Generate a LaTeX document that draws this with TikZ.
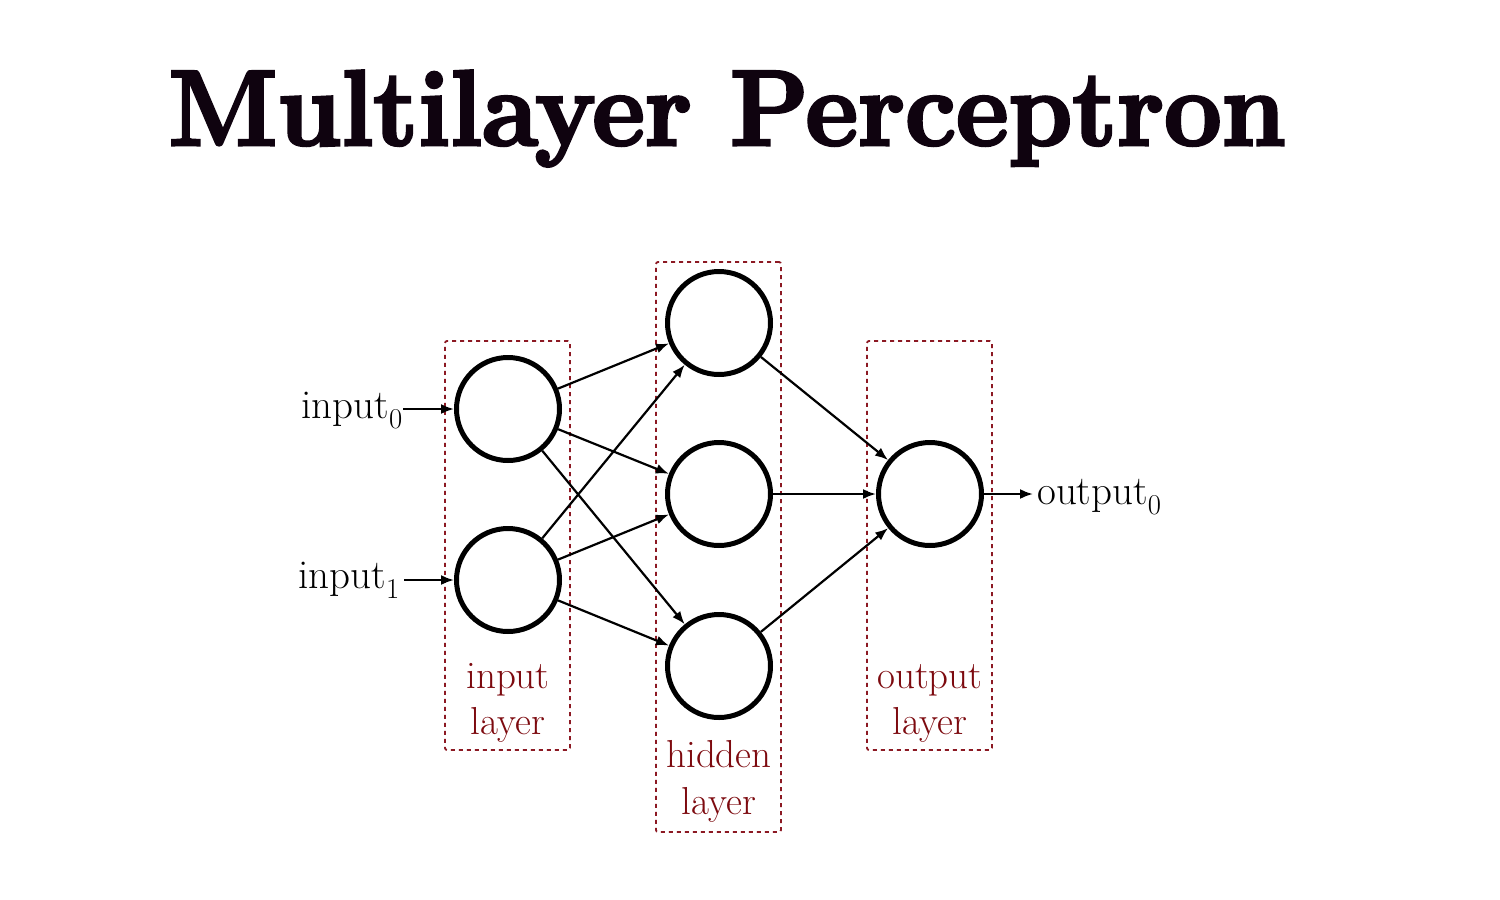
\documentclass[tikz,border=0pt]{standalone}
\usepackage{fontspec}
\usepackage{graphicx}
\newfontfamily\titlefont[FakeBold=3]{Latin Modern Roman}
\usetikzlibrary{arrows.meta,calc}
\definecolor{boxred}{RGB}{140,25,35}
\definecolor{labred}{RGB}{125,10,15}
\definecolor{titleblk}{RGB}{15,3,15}
\begin{document}
\begin{tikzpicture}[x=1pt,y=-1pt,
  neuron/.style={circle,draw,line width=5pt,minimum size=103pt,inner sep=0pt},
  layerbox/.style={draw=boxred,dash pattern=on 4pt off 4pt,line width=1.8pt,rounded corners=2pt,inner sep=0pt},
  conn/.style={-{Latex[length=13pt,width=10pt]},line width=2.2pt},
  lab/.style={text=labred,font=\fontsize{39}{42}\selectfont,inner sep=0pt,anchor=base},
  iotext/.style={font=\fontsize{41}{44}\selectfont,inner sep=0pt}]
\useasboundingbox (0,0) rectangle (1500,900);
\fill[white] (0,0) rectangle (1500,900);
% title
\node[anchor=base,inner sep=0pt,text=titleblk] (title) at (727,145)
  {\titlefont\bfseries\fontsize{107}{110}\selectfont\scalebox{0.955}[1]{Multilayer Perceptron}};
% layer boxes
\node[layerbox,minimum width=125pt,minimum height=409pt] (inbox) at (507.5,545.5) {};
\node[layerbox,minimum width=125pt,minimum height=570pt] (hidbox) at (718.5,547) {};
\node[layerbox,minimum width=125pt,minimum height=409pt] (outbox) at (929.5,545.5) {};
% neurons
\node[neuron] (i0) at (508,409) {};
\node[neuron] (i1) at (508,580) {};
\node[neuron] (h0) at (719,323) {};
\node[neuron] (h1) at (719,494) {};
\node[neuron] (h2) at (719,666) {};
\node[neuron] (o0) at (930,494) {};
% labels
\node[lab] (l1a) at (508,688) {input};
\node[lab] (l1b) at (508,734) {layer};
\node[lab] (l2a) at (719,767) {hidden};
\node[lab] (l2b) at (719,814) {layer};
\node[lab] (l3a) at (930,688) {output};
\node[lab] (l3b) at (930,734) {layer};
% io text
\node[iotext,anchor=base east] (in0) at (403,418) {input\textsubscript{0}};
\node[iotext,anchor=base east] (in1) at (400,588) {input\textsubscript{1}};
\node[iotext,anchor=base west] (out0) at (1037,504) {output\textsubscript{0}};
% connections
\draw[conn] (i0.west -| in0.east) -- (i0.west);
\draw[conn] (i1.west -| in1.east) ++(4pt,0) -- (i1.west);
\foreach \a in {i0,i1} \foreach \b in {h0,h1,h2} \draw[conn] (\a) -- (\b);
\foreach \b in {h0,h1,h2} \draw[conn] (\b) -- (o0);
\draw[conn] (o0.east) -- ($(o0.east -| out0.west)+(-4pt,0)$);
\end{tikzpicture}
\end{document}
